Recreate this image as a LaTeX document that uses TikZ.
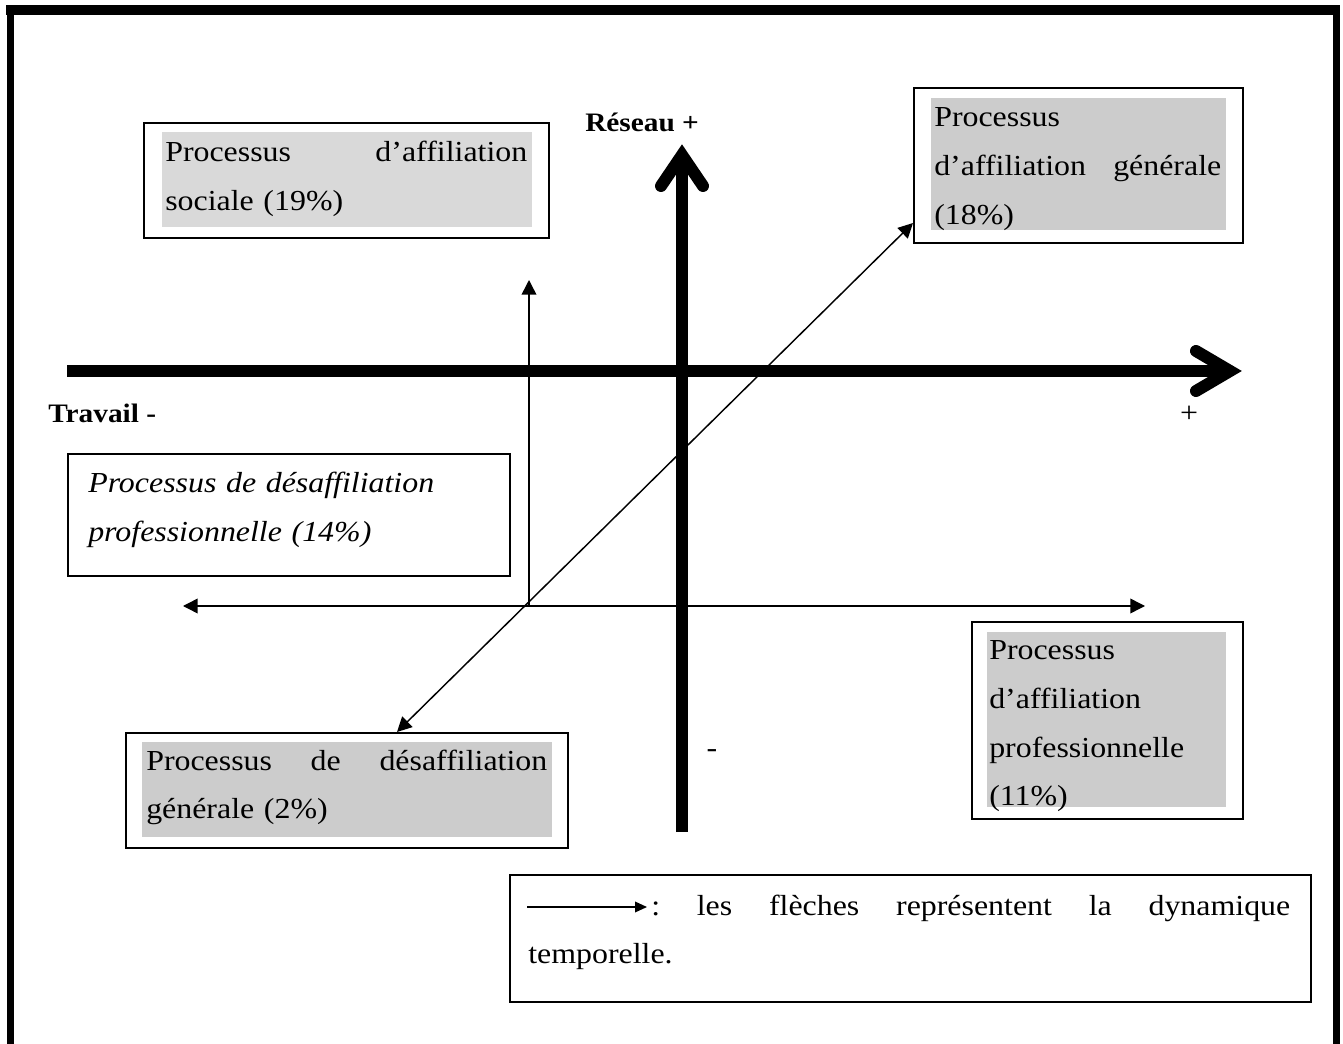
\documentclass[tikz,border=0pt]{standalone}
\usepackage{fontspec}
\setmainfont{Liberation Serif}[FakeStretch=1.1]
\usetikzlibrary{arrows.meta}
\definecolor{grayA}{HTML}{D9D9D9}
\definecolor{grayB}{HTML}{CCCCCC}
\newcommand{\jline}[2]{\leavevmode\hbox to #1{#2}}
\begin{document}
\begin{tikzpicture}[x=0.75pt,y=-0.75pt,
  axis/.style={line width=9pt, line cap=butt},
  axishead/.style={line width=9pt, line cap=round, line join=miter},
  thinarrow/.style={line width=1.1pt, -{Triangle[length=11pt,width=11pt]}},
  dblarrow/.style={line width=1.1pt, {Triangle[length=11pt,width=11pt]}-{Triangle[length=11pt,width=11pt]}},
  legarrow/.style={line width=1.1pt, -{Triangle[length=9pt,width=8pt]}},
  boxo/.style={draw, line width=1.5pt, inner sep=0pt, anchor=north west},
  txt/.style={inner sep=0pt, anchor=base west, align=left, font=\fontsize{21.75pt}{36.4pt}\selectfont},
  lbl/.style={inner sep=0pt, anchor=base west, font=\fontsize{20pt}{24pt}\selectfont\bfseries},
  sign/.style={inner sep=0pt, anchor=base, font=\fontsize{21.75pt}{26pt}\selectfont},
]
\useasboundingbox (0,0) rectangle (1343,1044);
% outer frame (open at the bottom)
\fill (5.5,5) rectangle (1339.5,15);
\fill (6.5,5) rectangle (13.5,1044);
\fill (1332.5,5) rectangle (1339.5,1044);

% grey fills inside boxes
\fill[grayA] (162,132) rectangle (532,227);
\fill[grayB] (931,98) rectangle (1226,230);
\fill[grayB] (987,632) rectangle (1226,807);
\fill[grayB] (142,742) rectangle (552,837);

% axes
\coordinate (xl) at (67,371);
\coordinate (xv) at (1230,371);
\coordinate (yb) at (682,832);
\coordinate (yv) at (682,155);
\draw[axis] (xl) -- (xv);
\draw[axishead] (1196,351) -- (xv) -- (1196,391);
\draw[axis] (yb) -- (yv);
\draw[axishead] (661,186) -- (yv) -- (703,186);

% boxes
\node[boxo, minimum width=303.75pt, minimum height=86.25pt] (b1) at (143,122) {};
\node[boxo, minimum width=246.75pt, minimum height=116.25pt] (b2) at (913,87) {};
\node[boxo, minimum width=331.5pt, minimum height=91.5pt] (b3) at (67,453) {};
\node[boxo, minimum width=203.25pt, minimum height=147.75pt] (b4) at (971,621) {};
\node[boxo, minimum width=331.5pt, minimum height=86.25pt] (b5) at (125,732) {};
\node[boxo, minimum width=600.75pt, minimum height=95.25pt] (b6) at (509,874) {};

% thin arrows
\coordinate (cross) at (529,606);
\coordinate (vtip) at (529,280);
\coordinate (hl) at (183,606);
\coordinate (hr) at (1145,606);
\coordinate (dlow) at (397,732);
\coordinate (dhigh) at (913,223);
\draw[thinarrow] (cross) -- (vtip);
\draw[dblarrow] (hl) -- (hr);
\draw[dblarrow] (dlow) -- (dhigh);

% texts
\node[txt, text width=271.5pt] (t1) at (165,162)
  {\jline{271.5pt}{Processus\hfill d’affiliation}\\sociale (19\%)};
\node[txt, text width=215.25pt] (t2) at (934,127)
  {Processus\\\jline{215.25pt}{d’affiliation\hfill générale}\\(18\%)};
\node[txt, text width=300pt, font=\fontsize{21.75pt}{36.4pt}\selectfont\itshape] (t3) at (88,493)
  {Processus de désaffiliation\\professionnelle (14\%)};
\node[txt, text width=177.75pt] (t4) at (989,660)
  {Processus\\d’affiliation\\professionnelle\\(11\%)};
\node[txt, text width=300.75pt] (t5) at (146,770)
  {\jline{300.75pt}{Processus\hfill de\hfill désaffiliation}\\générale (2\%)};
\node[txt, text width=571.5pt] (t6) at (528,915)
  {\jline{571.5pt}{\hspace*{92.25pt}:\hfill les\hfill flèches\hfill représentent\hfill la\hfill dynamique}\\temporelle.};
\draw[legarrow] ([shift={(-1,-8)}]t6.base west) coordinate (la) -- ++(120,0) coordinate (lb);

% axis labels
\node[lbl] (reseau) at (585,132) {Réseau +};
\node[lbl] (travail) at (48,423) {Travail -};
\node[sign] (plus) at (1189,423) {+};
\node[sign] (minus) at (712,757) {-};
\end{tikzpicture}
\end{document}
